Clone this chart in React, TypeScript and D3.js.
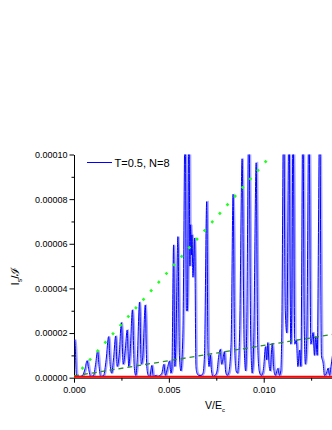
import { useEffect, useRef } from "react";
import * as d3 from "d3";

// blue trace: V/E_c and I_s/ℐ
const voltage = [
  0, 0.0000423, 0.000132, 0.000291, 0.00045, 0.000582, 0.000688, 0.000794, 0.000873, 0.00103,
  0.001138, 0.001243, 0.001323, 0.001402, 0.001561, 0.001693, 0.001825, 0.001905, 0.001984, 0.00209,
  0.002196, 0.002275, 0.002381, 0.002497, 0.002593, 0.002698, 0.002804, 0.002884, 0.002963, 0.003079,
  0.003175, 0.003254, 0.003333, 0.003455, 0.003545, 0.003624, 0.003757, 0.003836, 0.003915, 0.003995,
  0.004101, 0.00418, 0.004312, 0.004418, 0.004524, 0.00463, 0.004735, 0.004815, 0.004894, 0.005037,
  0.005106, 0.005159, 0.005249, 0.005317, 0.00537, 0.005476, 0.005556, 0.005635, 0.005741, 0.005862,
  0.005926, 0.005979, 0.006058, 0.006111, 0.006148, 0.00619, 0.006217, 0.00627, 0.00636, 0.006429,
  0.006481, 0.006587, 0.006693, 0.006799, 0.006878, 0.006995, 0.007063, 0.007116, 0.007185, 0.007249,
  0.007328, 0.007434, 0.00754, 0.007619, 0.007714, 0.007778, 0.007847, 0.007926, 0.007989, 0.008069,
  0.008148, 0.00828, 0.008386, 0.008466, 0.008545, 0.008624, 0.00873, 0.008862, 0.008968, 0.009048,
  0.009101, 0.009217, 0.009312, 0.009392, 0.009471, 0.009603, 0.009683, 0.009762, 0.009868, 0.009947,
  0.01, 0.010095, 0.010159, 0.010212, 0.010291, 0.010344, 0.01045, 0.010529, 0.010608, 0.010751,
  0.01082, 0.0109, 0.010952, 0.011048, 0.011138, 0.011217, 0.011333, 0.011429, 0.011481, 0.011545,
  0.01164, 0.011719, 0.011799, 0.011894, 0.011958, 0.012063, 0.012143, 0.012196, 0.012275, 0.012381,
  0.012487, 0.012603, 0.012672, 0.012741, 0.01282, 0.012952, 0.013042, 0.013132, 0.013201, 0.013307,
  0.013397, 0.013466, 0.013545, 0.013624,
];
const current = [
  1.65e-5, 1.69e-5, 1e-6, 5e-7, 1e-6, 4e-6, 7.6e-6, 3e-6, 5e-7, 1e-6,
  6e-6, 1.2e-5, 5e-6, 5e-7, 1e-6, 8e-6, 1.84e-5, 6e-6, 2e-6, 9e-6,
  1.87e-5, 5e-6, 1e-5, 2.47e-5, 6e-6, 1.2e-5, 2.14e-5, 5e-6, 1.2e-5, 3.04e-5,
  5e-6, 1e-6, 8e-6, 3.39e-5, 6e-6, 9e-6, 3.26e-5, 5e-6, 1e-6, 5e-7,
  5.5e-6, 5e-7, 1e-6, 5e-7, 1e-6, 2e-6, 6e-6, 1e-6, 3e-6, 7.5e-6,
  2e-6, 4e-6, 5.95e-5, 5e-6, 1.5e-5, 6.32e-5, 1e-5, 3e-6, 2e-5, 1.2e-4,
  3e-5, 3e-5, 1.2e-4, 5e-5, 6.85e-5, 5.5e-5, 6.4e-5, 4.5e-5, 6.26e-5, 5e-6,
  2e-6, 1e-6, 1e-6, 2e-6, 1e-5, 7.89e-5, 1.2e-5, 5e-6, 1.02e-5, 3e-6,
  5e-7, 1e-6, 3e-6, 9e-6, 1.27e-5, 6e-6, 8e-6, 1.17e-5, 3e-6, 1e-6,
  2e-6, 1.5e-5, 8.22e-5, 1.5e-5, 3e-6, 2e-6, 2e-5, 9.81e-5, 1.5e-5, 3e-6,
  2e-5, 1.2e-4, 2e-5, 2e-6, 1.5e-5, 9.63e-5, 1.5e-5, 3e-6, 1e-6, 2e-6,
  5e-6, 1.39e-5, 8e-6, 1.57e-5, 5e-6, 3e-6, 1.54e-5, 4e-6, 1e-6, 4.2e-6,
  1e-6, 3e-6, 2e-5, 1.2e-4, 3e-5, 2e-5, 1.2e-4, 1.5e-5, 3e-5, 1.2e-4,
  1.5e-5, 1.69e-5, 5e-6, 1.24e-5, 5e-6, 1.2e-4, 2e-5, 6e-6, 2e-5, 1.2e-4,
  1.5e-5, 2.02e-5, 1e-5, 1.84e-5, 1e-5, 1.2e-4, 1e-5, 6.5e-6, 1e-6, 2e-6,
  4.3e-6, 1e-6, 5e-6, 1e-5,
];

// straight reference lines (end points)
const steepLine: [number, number][] = [[0, 0], [0.01044, 1e-4]];
const shallowLine: [number, number][] = [[0, 8e-7], [0.0137, 1.95e-5]];
const redLine: [number, number][] = [[0, 4e-7], [0.0137, 4e-7]];

const xTicks = [0, 0.005, 0.01];
const xMinor = [0.0025, 0.0075, 0.0125];
const yTicks = [0, 2e-5, 4e-5, 6e-5, 8e-5, 1e-4];
const yMinor = [1e-5, 3e-5, 5e-5, 7e-5, 9e-5];
const legendLabel = "T=0.5, N=8";

const FONT = "'Liberation Sans', Arial, sans-serif";

export default function App() {
  const svgRef = useRef<SVGSVGElement>(null);

  useEffect(() => {
    const el = svgRef.current;
    if (!el) return;
    const svg = d3.select(el);
    svg.selectAll("*").remove();

    const left = 74, right = 332, top = 154.5, bottom = 377.7;
    const x = d3.scaleLinear().domain([0, 0.0136]).range([left, right]);
    const y = d3.scaleLinear().domain([0, 1e-4]).range([bottom, top]);

    svg.append("defs").append("clipPath").attr("id", "plotClip")
      .append("rect").attr("x", left).attr("y", top)
      .attr("width", right - left + 2).attr("height", bottom - top + 3);

    // axes
    const styleAxis = (ax: any) => {
      ax.select(".domain").attr("stroke", "#000").attr("stroke-width", 1);
      ax.selectAll(".tick line").attr("stroke", "#000");
      ax.selectAll("text").attr("fill", "#000").attr("font-size", 9).attr("font-family", FONT);
    };

    svg.append("g").attr("transform", `translate(${left},0)`)
      .call(d3.axisLeft(y).tickValues(yTicks).tickFormat(d3.format(".5f") as any).tickSize(4.5).tickSizeOuter(0).tickPadding(2))
      .call(styleAxis);
    svg.append("g").attr("transform", `translate(${left},0)`)
      .call(d3.axisLeft(y).tickValues(yMinor).tickFormat(() => "").tickSize(2.5).tickSizeOuter(0))
      .call((ax: any) => { ax.select(".domain").remove(); ax.selectAll("line").attr("stroke", "#000"); });

    svg.append("g").attr("transform", `translate(0,${bottom})`)
      .call(d3.axisBottom(x).tickValues(xTicks).tickFormat(d3.format(".3f") as any).tickSize(5).tickSizeOuter(0).tickPadding(4))
      .call(styleAxis);
    svg.append("g").attr("transform", `translate(0,${bottom})`)
      .call(d3.axisBottom(x).tickValues(xMinor).tickFormat(() => "").tickSize(3).tickSizeOuter(0))
      .call((ax: any) => { ax.select(".domain").remove(); ax.selectAll("line").attr("stroke", "#000"); });

    const plot = svg.append("g").attr("clip-path", "url(#plotClip)");
    const pts = voltage.map((v, i) => [v, current[i]] as [number, number]);
    const trace = d3.line<[number, number]>().x(d => x(d[0])).y(d => y(d[1])).curve(d3.curveMonotoneX);
    const straight = d3.line<[number, number]>().x(d => x(d[0])).y(d => y(d[1]));

    plot.append("path").datum(pts).attr("d", trace)
      .attr("fill", "none").attr("stroke", "#a8a8ff").attr("stroke-width", 1.8)
      .attr("transform", "translate(1.2,0)");
    plot.append("path").datum(pts).attr("d", trace)
      .attr("fill", "none").attr("stroke", "#0000ff").attr("stroke-width", 1);

    plot.append("path").datum(steepLine).attr("d", straight)
      .attr("fill", "none").attr("stroke", "#22ff22").attr("stroke-width", 2.6)
      .attr("stroke-dasharray", "2.6 8.9");
    plot.append("path").datum(shallowLine).attr("d", straight)
      .attr("fill", "none").attr("stroke", "#2e8b2e").attr("stroke-width", 1.3)
      .attr("stroke-dasharray", "5 4");
    plot.append("path").datum(redLine).attr("d", straight)
      .attr("fill", "none").attr("stroke", "#ff0000").attr("stroke-width", 2);

    // legend
    svg.append("line").attr("x1", 87).attr("x2", 112).attr("y1", 162.5).attr("y2", 162.5)
      .attr("stroke", "#0000ff").attr("stroke-width", 1);
    svg.append("text").attr("x", 114.5).attr("y", 166.5).attr("font-size", 11)
      .attr("font-family", FONT).text(legendLabel);

    // axis titles
    const xt = svg.append("text").attr("x", 215).attr("y", 409).attr("text-anchor", "middle")
      .attr("font-size", 10.5).attr("font-family", FONT);
    xt.append("tspan").text("V/E");
    xt.append("tspan").attr("font-size", 6).attr("dy", 2.5).text("c");

    const yt = svg.append("text").attr("transform", "translate(19,276) rotate(-90)")
      .attr("text-anchor", "middle").attr("font-size", 11.5).attr("font-family", FONT);
    yt.append("tspan").text("I");
    yt.append("tspan").attr("font-size", 7).attr("dy", 2.5).text("s");
    yt.append("tspan").attr("dy", -2.5).text("/ℐ");
  }, []);

  return (
    <svg ref={svgRef} width={332} height={430}
      style={{ position: "absolute", left: 0, top: 0, background: "#fff" }} />
  );
}
